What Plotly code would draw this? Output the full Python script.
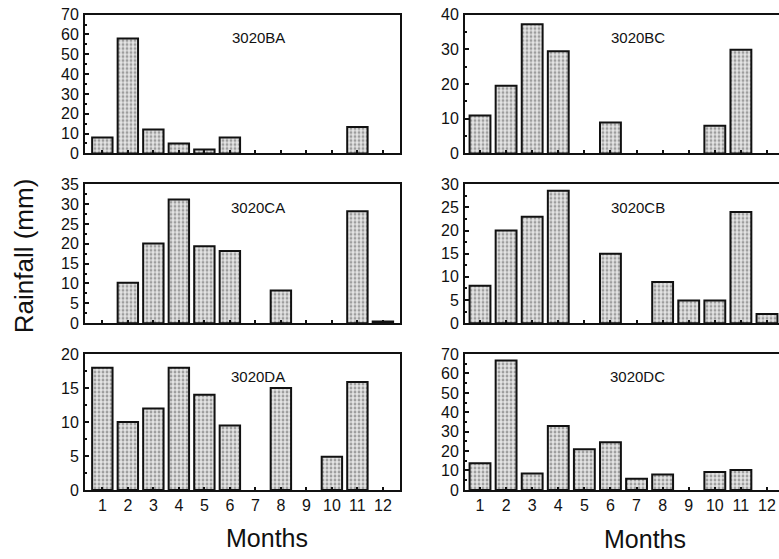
import plotly.graph_objects as go

months = list(range(1, 13))
month_labels = [str(m) for m in months]

ba = [8, 58, 12, 5, 2, 8, 0, 0, 0, 0, 13.3, 0]
bc = [10.9, 19.5, 37.2, 29.4, 0, 8.9, 0, 0, 0, 8.0, 29.9, 0]
ca = [0, 10.2, 20.1, 31.2, 19.4, 18.2, 0, 8.2, 0, 0, 28.2, 0.4]
cb = [8.1, 20.0, 23.0, 28.6, 0, 15.0, 0, 8.9, 4.9, 4.9, 24.0, 2.0]
da = [18.0, 10.0, 12.0, 18.0, 14.0, 9.5, 0, 15.0, 0, 4.9, 15.9, 0]
dc = [13.7, 66.7, 8.4, 32.9, 20.9, 24.6, 5.8, 8.0, 0, 9.2, 10.3, 0]

names = ["3020BA", "3020BC", "3020CA", "3020CB", "3020DA", "3020DC"]
series = [ba, bc, ca, cb, da, dc]
ymax = [70, 40, 35, 30, 20, 70]
ydt = [10, 10, 5, 5, 5, 10]

W, H = 779, 559
def px_x(p):
    return p / W
def px_y(p):
    # compensate observed vertical offset/scale of the capture
    q = (p - 7.4) / 0.971
    return 1 - q / H

col_dom = [[px_x(85), px_x(400)], [px_x(465), 1.0]]
col_rng = [[0.32, 12.67], [0.425, 12.46]]
row_dom = [[px_y(153), px_y(14)], [px_y(323), px_y(184)], [px_y(490), px_y(354)]]

fig = go.Figure()
font_fam = "Liberation Sans, Arial, Helvetica, sans-serif"
ink = "#111111"

for i, (nm, vals) in enumerate(zip(names, series)):
    r, c = divmod(i, 2)
    k = i + 1
    xa = "x" if k == 1 else f"x{k}"
    ya = "y" if k == 1 else f"y{k}"
    fig.add_trace(go.Bar(
        x=months, y=[v if v > 0 else None for v in vals],
        xaxis=xa, yaxis=ya, width=0.8,
        marker=dict(color="#dcdcdc",
                    line=dict(color=ink, width=2),
                    pattern=dict(shape=".", fgcolor="#555555", bgcolor="#e4e4e4",
                                 size=4, solidity=0.4)),
        showlegend=False, hoverinfo="x+y",
    ))
    xkey = "xaxis" if k == 1 else f"xaxis{k}"
    ykey = "yaxis" if k == 1 else f"yaxis{k}"
    bottom = (r == 2)
    fig.layout[xkey] = dict(
        domain=col_dom[c], range=col_rng[c], anchor=ya,
        tickmode="array", tickvals=months,
        ticktext=month_labels if bottom else [""] * 12,
        showticklabels=bottom,
        ticks="inside", ticklen=3, tickwidth=1.5, tickcolor=ink,
        showline=True, linecolor=ink, linewidth=2, mirror=True,
        showgrid=False, zeroline=False, fixedrange=True,
        tickfont=dict(family=font_fam, size=16, color=ink),
    )
    fig.layout[ykey] = dict(
        domain=row_dom[r], range=[0, ymax[i]], anchor=xa,
        tickmode="linear", tick0=0, dtick=ydt[i],
        ticks="inside", ticklen=4, tickwidth=1.5, tickcolor=ink,
        minor=dict(ticks="inside", ticklen=2, tickcolor=ink, dtick=ydt[i] / 2, tick0=0),
        showline=True, linecolor=ink, linewidth=2, mirror=(c == 0),
        showgrid=False, zeroline=False, fixedrange=True,
        ticklabelstandoff=1,
        tickfont=dict(family=font_fam, size=16, color=ink),
    )
    fig.add_annotation(
        text=nm, xref=f"{xa} domain", yref=f"{ya} domain",
        x=0.55, y=0.835, xanchor="center", yanchor="middle", showarrow=False,
        font=dict(family=font_fam, size=15, color=ink),
    )

fig.add_annotation(text="Rainfall (mm)", xref="paper", yref="paper",
                   x=px_x(24), y=px_y(256), xanchor="center", yanchor="middle",
                   textangle=-90, showarrow=False,
                   font=dict(family=font_fam, size=26, color=ink))
fig.add_annotation(text="Months", xref="paper", yref="paper",
                   x=px_x(267), y=px_y(538), xanchor="center", yanchor="middle",
                   showarrow=False,
                   font=dict(family=font_fam, size=25, color=ink))
fig.add_annotation(text="Months", xref="paper", yref="paper",
                   x=px_x(645), y=px_y(539), xanchor="center", yanchor="middle",
                   showarrow=False,
                   font=dict(family=font_fam, size=25, color=ink))

fig.update_layout(
    width=W, height=H, margin=dict(l=0, r=0, t=0, b=0),
    paper_bgcolor="white", plot_bgcolor="white",
    bargap=0.2,
)

post = (
    "document.documentElement.style.margin='0';"
    "document.documentElement.style.overflow='hidden';"
    "document.body.style.margin='0';"
    "document.body.style.overflow='hidden';"
    "var gd=document.getElementById('{plot_id}');"
    "gd.style.position='fixed';gd.style.left='0px';gd.style.top='0px';"
)
fig.write_html("out.html", post_script=post, config={"displayModeBar": False})
